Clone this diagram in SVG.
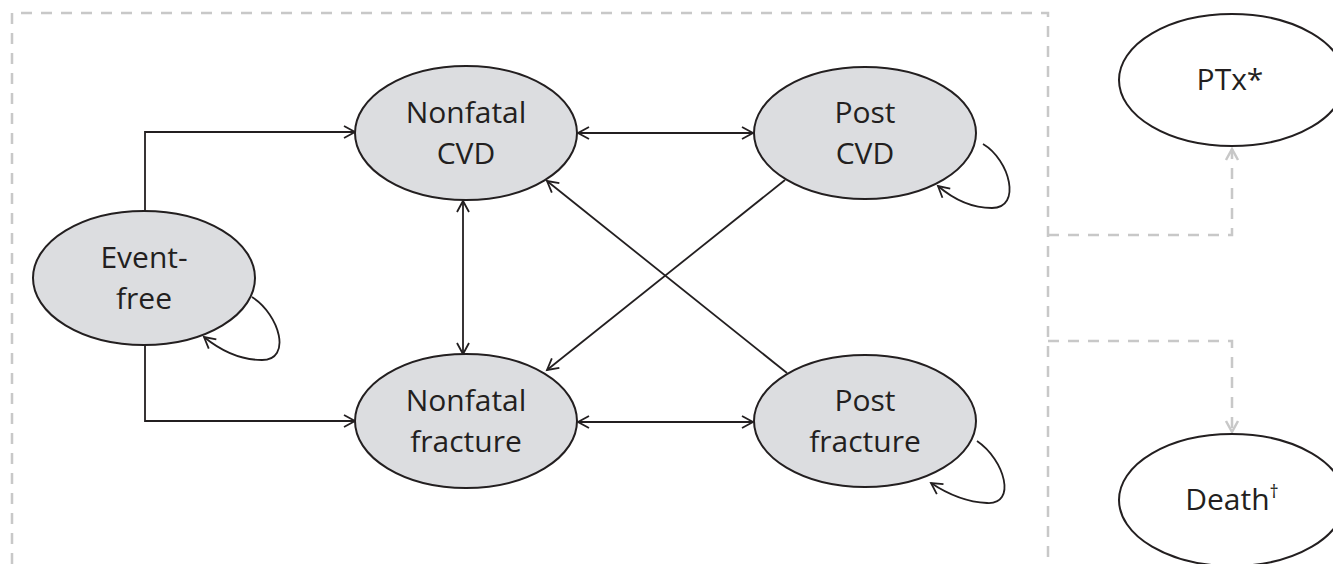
<svg xmlns="http://www.w3.org/2000/svg" width="1333" height="564" viewBox="0 0 1333 564">
<style>
.state{fill:#dcdde0;stroke:#231f20;stroke-width:2}
.outcome{fill:#ffffff;stroke:#231f20;stroke-width:2}
.lbl{font-family:"Open Sans","Liberation Sans",sans-serif;font-size:30px;fill:#231f20;text-anchor:middle}
.con{fill:none;stroke:#231f20;stroke-width:1.8}
.dash{fill:none;stroke:#c8c8c8;stroke-width:2.5;stroke-dasharray:11 9}
</style>
<defs>
<marker id="ah" markerUnits="userSpaceOnUse" markerWidth="16" markerHeight="16" refX="12" refY="8" orient="auto-start-reverse" viewBox="0 0 16 16">
<path d="M1,2 L12,8 L1,14" fill="none" stroke="#231f20" stroke-width="1.8"/>
</marker>
<marker id="ahg" markerUnits="userSpaceOnUse" markerWidth="16" markerHeight="16" refX="12" refY="8" orient="auto" viewBox="0 0 16 16">
<path d="M1,2 L12,8 L1,14" fill="none" stroke="#c8c8c8" stroke-width="2.5"/>
</marker>
</defs>
<g id="border">
<path class="dash" d="M12,564 L12,13 L1048,13 L1048,564"/>
</g>
<g id="connectors">
<path class="con" d="M145,212 L145,132 L355,132" marker-end="url(#ah)"/>
<path class="con" d="M145,345 L145,421 L355,421" marker-end="url(#ah)"/>
<path class="con" d="M578,133 L753,133" marker-start="url(#ah)" marker-end="url(#ah)"/>
<path class="con" d="M578,422 L753,422" marker-start="url(#ah)" marker-end="url(#ah)"/>
<path class="con" d="M463,201 L463,354" marker-start="url(#ah)" marker-end="url(#ah)"/>
<path class="con" d="M785,180 L547,370" marker-end="url(#ah)"/>
<path class="con" d="M787,373 L547,181" marker-end="url(#ah)"/>
<path class="con" d="M252,297 C280,315 292,360 262,360 C240,360 220,350 204,337" marker-end="url(#ah)"/>
<path class="con" d="M983,144 C1010,160 1022,208 992,208 C970,208 952,198 938,186" marker-end="url(#ah)"/>
<path class="con" d="M977,441 C1005,460 1017,505 987,503 C965,502 946,493 931,483" marker-end="url(#ah)"/>
<path class="dash" d="M1048,235 L1232,235 L1232,149" marker-end="url(#ahg)"/>
<path class="dash" d="M1048,341 L1232,341 L1232,432" marker-end="url(#ahg)"/>
</g>
<g id="event-free">
<ellipse class="state" cx="144" cy="278" rx="111" ry="67"/>
<text class="lbl" x="144" y="268">Event-</text>
<text class="lbl" x="144" y="309">free</text>
</g>
<g id="nonfatal-cvd">
<ellipse class="state" cx="466" cy="133" rx="111" ry="67"/>
<text class="lbl" x="466" y="123">Nonfatal</text>
<text class="lbl" x="466" y="164">CVD</text>
</g>
<g id="nonfatal-fracture">
<ellipse class="state" cx="466" cy="421" rx="111" ry="67"/>
<text class="lbl" x="466" y="411">Nonfatal</text>
<text class="lbl" x="466" y="452">fracture</text>
</g>
<g id="post-cvd">
<ellipse class="state" cx="865" cy="133" rx="111" ry="66"/>
<text class="lbl" x="865" y="123">Post</text>
<text class="lbl" x="865" y="164">CVD</text>
</g>
<g id="post-fracture">
<ellipse class="state" cx="865" cy="421" rx="111" ry="66"/>
<text class="lbl" x="865" y="411">Post</text>
<text class="lbl" x="865" y="452">fracture</text>
</g>
<g id="ptx">
<ellipse class="outcome" cx="1232" cy="80" rx="113" ry="66"/>
<text class="lbl" x="1230" y="90">PTx*</text>
</g>
<g id="death">
<ellipse class="outcome" cx="1232" cy="500" rx="113" ry="66"/>
<text class="lbl" x="1232" y="510">Death<tspan font-size="18" dy="-12">†</tspan></text>
</g>
</svg>
